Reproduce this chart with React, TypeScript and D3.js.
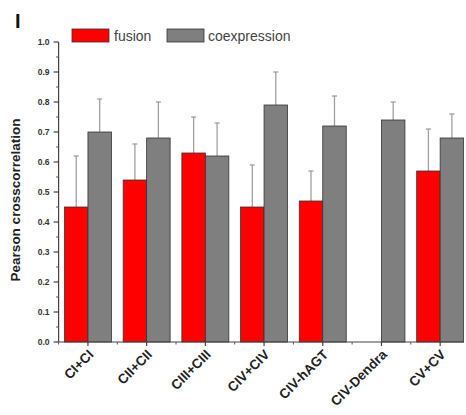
import React from "react";
import * as d3 from "d3";

const categories = ["CI+CI", "CII+CII", "CIII+CIII", "CIV+CIV", "CIV-hAGT", "CIV-Dendra", "CV+CV"];
const fusionValues: (number | null)[] = [0.45, 0.54, 0.63, 0.45, 0.47, null, 0.57];
const fusionErrors: (number | null)[] = [0.17, 0.12, 0.12, 0.14, 0.10, null, 0.14];
const coexpValues = [0.70, 0.68, 0.62, 0.79, 0.72, 0.74, 0.68];
const coexpErrors = [0.11, 0.12, 0.11, 0.11, 0.10, 0.06, 0.08];
const yTicks = [0, 0.1, 0.2, 0.3, 0.4, 0.5, 0.6, 0.7, 0.8, 0.9, 1.0];
const seriesNames = ["fusion", "coexpression"];

const W = 466, H = 415;
const left = 58.6, right = 469.5, top = 42, bottom = 342;

export default function App() {
  const x = d3.scaleBand<string>().domain(categories).range([left, right]).paddingInner(0).paddingOuter(0);
  const inner = d3.scaleBand<string>().domain(seriesNames).range([0, x.bandwidth()]).paddingInner(0).paddingOuter(0.25);
  const y = d3.scaleLinear().domain([0, 1]).range([bottom, top]);
  const minor = d3.range(0.05, 1.0, 0.1);
  const colors = ["#ff0000", "#7f7f7f"];
  const font = "Arial, 'Liberation Sans', sans-serif";

  const renderBar = (c: string, i: number, s: number, v: number | null, e: number | null) => {
    if (v == null) return null;
    const bx = (x(c) as number) + (inner(seriesNames[s]) as number);
    const bw = inner.bandwidth();
    const cx = bx + bw / 2;
    return (
      <g key={`${c}-${s}`}>
        {e != null && (
          <g stroke="#a0a0a0" strokeWidth={1.3}>
            <line x1={cx} x2={cx} y1={y(v)} y2={y(v + e)} />
            <line x1={cx - 2.5} x2={cx + 2.5} y1={y(v + e)} y2={y(v + e)} />
          </g>
        )}
        <rect x={bx} y={y(v)} width={bw} height={y(0) - y(v)} fill={colors[s]} stroke="#333" strokeWidth={0.8} />
      </g>
    );
  };

  return (
    <svg width={W} height={H} style={{ position: "absolute", left: 0, top: 0, background: "#fff" }} fontFamily={font}>
      <rect width={W} height={H} fill="#fff" />
      <text x={15} y={28} fontSize={20} fontWeight="bold" fill="#111">I</text>
      {categories.map((c, i) => [
        renderBar(c, i, 0, fusionValues[i], fusionErrors[i]),
        renderBar(c, i, 1, coexpValues[i], coexpErrors[i]),
      ])}
      {/* y axis */}
      <line x1={left} x2={left} y1={top} y2={bottom} stroke="#444" strokeWidth={1.2} />
      {yTicks.map((t) => (
        <g key={t}>
          <line x1={left - 5} x2={left} y1={y(t)} y2={y(t)} stroke="#444" strokeWidth={1.2} />
          <text x={left - 9} y={y(t)} dy="0.35em" textAnchor="end" fontSize={8.5} fontWeight="bold" fill="#333">
            {t.toFixed(1)}
          </text>
        </g>
      ))}
      {minor.map((t) => (
        <line key={t} x1={left - 2.5} x2={left} y1={y(t)} y2={y(t)} stroke="#555" strokeWidth={1} />
      ))}
      {/* x axis */}
      <line x1={left} x2={464} y1={bottom} y2={bottom} stroke="#444" strokeWidth={1.2} />
      {categories.map((c) => {
        const cx = (x(c) as number) + x.bandwidth() / 2;
        return (
          <g key={c}>
            <line x1={cx} x2={cx} y1={bottom} y2={bottom + 4} stroke="#444" strokeWidth={1.2} />
            <line x1={x(c) as number} x2={x(c) as number} y1={bottom} y2={bottom + 2.5} stroke="#555" strokeWidth={1} />
            <text
              transform={`translate(${cx + 3},${bottom + 10}) rotate(-45)`}
              textAnchor="end"
              dy="0.35em"
              fontSize={13.5}
              fontWeight="bold"
              fill="#222"
            >
              {c}
            </text>
          </g>
        );
      })}
      <text
        transform={`translate(20,200) rotate(-90)`}
        textAnchor="middle"
        fontSize={13.5}
        fontWeight="bold"
        fill="#222"
      >
        Pearson crosscorrelation
      </text>
      {/* legend */}
      <rect x={72} y={29} width={37} height={13} fill={colors[0]} stroke="#333" strokeWidth={0.8} />
      <text x={114} y={40.5} fontSize={14} fill="#444">fusion</text>
      <rect x={167} y={29} width={37} height={13} fill={colors[1]} stroke="#333" strokeWidth={0.8} />
      <text x={208} y={40.5} fontSize={14} fill="#444">coexpression</text>
    </svg>
  );
}
